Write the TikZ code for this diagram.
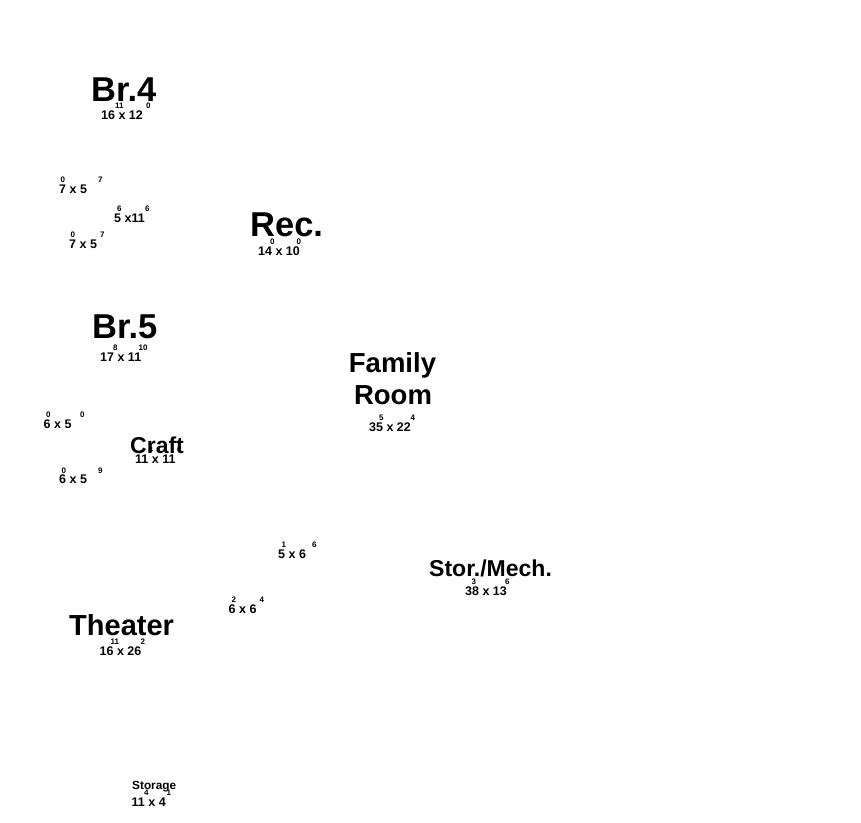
\documentclass[tikz,border=0pt]{standalone}
\usepackage{fontspec}
\setmainfont{Liberation Sans}

\tikzset{rname/.style = {anchor = base west,
                         inner sep = 0pt,
                         font = \fontsize{#1}{#1}\selectfont\bfseries},
         rdim/.style = {anchor = base west,
                        inner sep = 0pt,
                        font = \fontsize{12.5}{12.5}\selectfont\bfseries},
         rinch/.style = {anchor = base west,
                         inner sep = 0pt,
                         font = \fontsize{8}{8}\selectfont\bfseries}}

\begin{document}
\begin{tikzpicture}[x=1pt,y=-1pt]
	\useasboundingbox (0,0) rectangle (861,822);
	% room names
	\node[rname=34.5] (br4) at (91,101) {Br.4};
	\node[rname=34.5] (rec) at (250,236) {Rec.};
	\node[rname=34.5] (br5) at (92,338) {Br.5};
	\node[rname=27.5, anchor=base] (fam) at (392.5,372) {Family};
	\node[rname=27.5, anchor=base] (room) at (393,404) {Room};
	\node[rname=23] (craft) at (130,453) {Craft};
	\node[rname=23] (stor) at (429,576) {Stor./Mech.};
	\node[rname=29] (theater) at (69,635) {Theater};
	\node[rname=11.8] (storage) at (132,789) {Storage};
	% feet
	\foreach \n/\x/\y/\t in {br4/101/119/16 x 12, clo1/59/193/7 x 5,
	                         bath/114/222/5 x11, clo2/69/248/7 x 5,
	                         rec/258/255/14 x 10, br5/100/361/17 x 11,
	                         fam/369/431/35 x 22, clo3/43.5/428/6 x 5,
	                         craft/135/463/11 x 11, clo4/59/483.5/6 x 5,
	                         hall1/278/558/5 x 6, stor/465/595/38 x 13,
	                         hall2/228.5/613/6 x 6, theater/99.5/655/16 x 26,
	                         storage/131.5/806/11 x 4}
		\node[rdim] (\n-dim) at (\x,\y) {\t};
	% inches
	\foreach \n/\x/\y/\t in {br4-a/115/108.5/11, br4-b/146/108.5/0,
	                         clo1-a/60.5/182.5/0, clo1-b/98/182.5/7,
	                         bath-a/117/211.5/6, bath-b/145/211.5/6,
	                         clo2-a/70.5/237.5/0, clo2-b/100/237.5/7,
	                         rec-a/270/244.5/0, rec-b/296.5/244.5/0,
	                         br5-a/113/350.5/8, br5-b/138.5/350.5/10,
	                         fam-a/379/420.5/5, fam-b/410.5/420.5/4,
	                         clo3-a/46/417.5/0, clo3-b/80/417.5/0,
	                         craft-a/148.5/452.5/4, craft-b/177/452.5/0,
	                         clo4-a/61.5/473/0, clo4-b/98/473/9,
	                         hall1-a/281.5/547.5/1, hall1-b/312/547.5/6,
	                         stor-a/471.5/584.5/3, stor-b/505/584.5/6,
	                         hall2-a/231.5/602.5/2, hall2-b/259.5/602.5/4,
	                         theater-a/110.5/644.5/11, theater-b/140.5/644.5/2,
	                         storage-a/144/795.5/4, storage-b/166.5/795.5/1}
		\node[rinch] (\n) at (\x,\y) {\t};
\end{tikzpicture}
\end{document}
